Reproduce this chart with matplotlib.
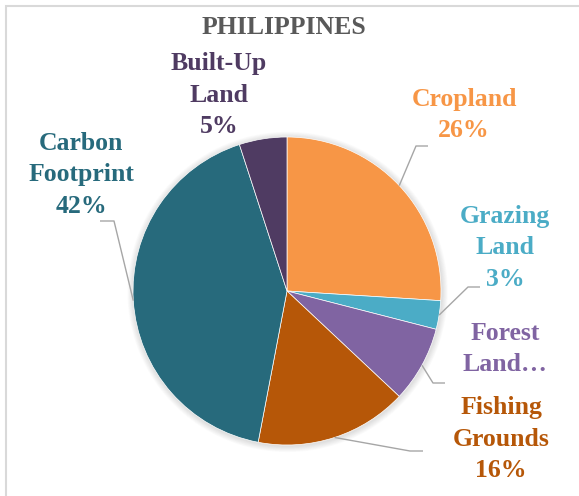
import numpy as np
import matplotlib
matplotlib.use('Agg')
import matplotlib.pyplot as plt
from matplotlib.patches import Circle, Rectangle

# Ecological footprint shares, clockwise from 12 o'clock
categories = ['Cropland', 'Grazing Land', 'Forest Land', 'Fishing Grounds',
              'Carbon Footprint', 'Built-Up Land']
shares = [26, 3, 8, 16, 42, 5]
labels = ['Cropland\n26%', 'Grazing\nLand\n3%', 'Forest\nLand\u2026',
          'Fishing\nGrounds\n16%', 'Carbon\nFootprint\n42%', 'Built-Up\nLand\n5%']
colors = ['#F79646', '#4BACC6', '#8064A2', '#B65708', '#276A7C', '#4F3B62']

W, H = 579, 496
CX, CY, R = 287, 291, 154   # pie centre and radius in pixels


def px(x, y):
    # pixel position -> data coordinates (pie radius = 1)
    return (x - CX) / R, (CY - y) / R


# label centres, and the leader elbow / end (pixels); None = no leader
label_pos = [(464, 115), (505, 248), (505, 349), (501, 439), (81, 175), (219, 95)]
leaders = [((416, 146), (428, 146)),
           ((468, 287), (480, 287)),
           ((433, 383), (445, 383)),
           ((410, 451), (423, 451)),
           ((114, 221), (100, 221)),
           None]

fig = plt.figure(figsize=(W / 100, H / 100), dpi=100)
ax = fig.add_axes([0, 0, 1, 1])

# chart area border (left and top edges only show)
x0, y0 = px(5.5, 5.5)
x1, y1 = px(W + 5, H + 5)
ax.add_patch(Rectangle((x0, y1), x1 - x0, y0 - y1, fill=False,
                       edgecolor='#D9D9D9', linewidth=1.5, zorder=0))

# soft shadow around the pie
for k in range(8):
    ax.add_patch(Circle((0.004, -0.006), 1.0 + 0.005 * (k + 1), color='#808080',
                        alpha=0.03, linewidth=0, zorder=1))

wedges, _ = ax.pie(shares, colors=colors, startangle=90, counterclock=False,
                   radius=1.0, center=(0, 0), frame=True,
                   wedgeprops=dict(edgecolor='white', linewidth=0.5, zorder=2))
ax.set_xlim(-CX / R, (W - CX) / R)
ax.set_ylim(-(H - CY) / R, CY / R)
ax.set_aspect('equal')
ax.axis('off')

font = dict(family='Liberation Serif', weight='bold', fontsize=18.5)

for w, lab, col, pos, lead in zip(wedges, labels, colors, label_pos, leaders):
    ax.text(*px(*pos), lab, ha='center', va='center', color=col,
            linespacing=1.45, **font)
    if lead is None:
        continue
    mid = np.deg2rad((w.theta1 + w.theta2) / 2)
    sx, sy = np.cos(mid), np.sin(mid)
    ex, ey = px(*lead[0])
    fx, fy = px(*lead[1])
    ax.plot([sx, ex, fx], [sy, ey, fy], color='#A6A6A6', linewidth=1.0,
            solid_capstyle='butt', zorder=3)

ax.text(*px(284, 27), 'PHILIPPINES', ha='center', va='center',
        color='#595959', **font)

fig.savefig('out.png', dpi=100)
